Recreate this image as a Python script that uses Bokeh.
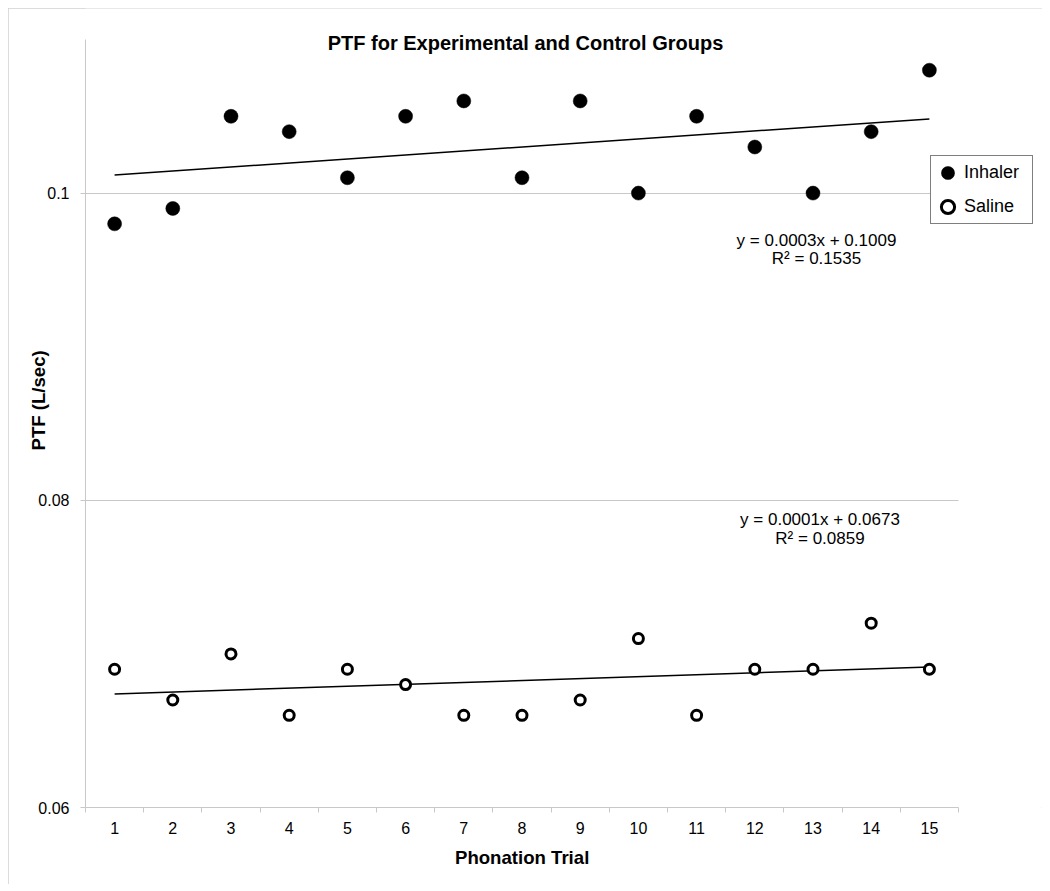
import numpy as np
from bokeh.plotting import figure
from bokeh.models import Range1d, FixedTicker, Label, Grid, Title
from bokeh.embed import file_html
from bokeh.resources import INLINE

# ---- data ----
trials = list(range(1, 16))
inhaler = [0.098, 0.099, 0.105, 0.104, 0.101, 0.105, 0.106, 0.101, 0.106, 0.100,
           0.105, 0.103, 0.100, 0.104, 0.108]
saline = [0.069, 0.067, 0.070, 0.066, 0.069, 0.068, 0.066, 0.066, 0.067, 0.071,
          0.066, 0.069, 0.069, 0.072, 0.069]
y_ticks = [0.06, 0.08, 0.1]
y_tick_labels = ["0.06", "0.08", "0.1"]
x_tick_labels = [str(t) for t in trials]
title_text = "PTF for Experimental and Control Groups"
x_title = "Phonation Trial"
y_title = "PTF (L/sec)"
eq_inhaler = ["y = 0.0003x + 0.1009", "R² = 0.1535"]
eq_saline = ["y = 0.0001x + 0.0673", "R² = 0.0859"]

FONT = "Liberation Sans"
GRAY = "#c8c8c8"

# ---- layout (pixels) ----
W, H = 1034, 876
LEFT, BOTTOM = 77, 77
PLOT_W, PLOT_H = 873, 768          # axis extent of the chart area
X0, X1 = 0.5, 15.5
Y0, Y1 = 0.06, 0.11
# frame is extended to the right and top so legend/title are not clipped
x_end = X1 + (W - LEFT - PLOT_W) * (X1 - X0) / PLOT_W
y_end = Y1 + (H - BOTTOM - PLOT_H) * (Y1 - Y0) / PLOT_H

p = figure(width=W, height=H, output_backend="svg", toolbar_location=None,
           x_range=Range1d(X0, x_end), y_range=Range1d(Y0, y_end),
           title_location=None,
           min_border_left=LEFT, min_border_right=0, min_border_top=0, min_border_bottom=BOTTOM)
p.styles = {"margin": "8px 0 0 8px", "outline": "1px solid #d0d0d0", "outline-offset": "-1px"}
p.outline_line_color = None
p.background_fill_color = "white"
p.border_fill_color = "white"

# axes
xa = p.xaxis[0]
xa.bounds = (X0, X1)
xa.ticker = FixedTicker(ticks=trials, minor_ticks=[t - 0.5 for t in trials] + [trials[-1] + 0.5])
xa.major_label_overrides = {t: lab for t, lab in zip(trials, x_tick_labels)}
xa.major_tick_line_color = None
xa.major_tick_out = 0
xa.major_tick_in = 0
xa.minor_tick_line_color = GRAY
xa.minor_tick_out = 5
xa.minor_tick_in = 0
xa.axis_line_color = GRAY
xa.major_label_text_font = FONT
xa.major_label_text_font_size = "16px"
xa.major_label_text_color = "black"
xa.major_label_standoff = 9

XT_SIZE = 18.6
# x axis title, centred under the chart area (not the extended frame)
xt_half = 67
p.add_layout(Title(text=x_title, align="left", offset=PLOT_W / 2 - xt_half,
                   vertical_align="top", standoff=21,
                   text_font=FONT, text_font_style="bold", text_font_size=f"{XT_SIZE}px",
                   text_color="black"), "below")

ya = p.yaxis[0]
ya.bounds = (Y0, Y1)
ya.ticker = FixedTicker(ticks=y_ticks, minor_ticks=[])
ya.major_label_overrides = {t: lab for t, lab in zip(y_ticks, y_tick_labels)}
ya.major_tick_line_color = GRAY
ya.major_tick_out = 5
ya.major_tick_in = 0
ya.minor_tick_line_color = None
ya.axis_line_color = GRAY
ya.major_label_text_font = FONT
ya.major_label_text_font_size = "16px"
ya.major_label_text_color = "black"
ya.major_label_standoff = 11

# y axis title, placed along the chart area
p.add_layout(Title(text=y_title, align="left", offset=357,
                   vertical_align="bottom", standoff=-26,
                   text_font=FONT, text_font_style="bold", text_font_size=f"{XT_SIZE}px",
                   text_color="black"), "left")

p.xgrid.visible = False
if "cross_bounds" in Grid.properties():
    p.ygrid.grid_line_color = GRAY
    p.ygrid.cross_bounds = (X0, X1)
else:
    p.ygrid.visible = False
    gl = [t for t in y_ticks if t != Y0]
    p.segment(x0=[X0] * len(gl), x1=[X1] * len(gl), y0=gl, y1=gl, line_color=GRAY, line_width=1)

# trend lines (least-squares fits of the data)
x = np.array(trials, dtype=float)
for ys in (inhaler, saline):
    m, b = np.polyfit(x, np.array(ys), 1)
    p.line([x[0], x[-1]], [m * x[0] + b, m * x[-1] + b], line_color="black", line_width=1.5)

# points
r1 = p.scatter(trials, inhaler, marker="circle", size=14, fill_color="black",
               line_color="black", line_width=0.5, legend_label="Inhaler")
r2 = p.scatter(trials, saline, marker="circle", size=10, fill_color="white",
               line_color="black", line_width=3, legend_label="Saline")

# legend
lg = p.legend[0]
lg.location = (845, 583)
lg.margin = 0
lg.padding = 0
lg.spacing = 1
lg.glyph_width = 33
lg.glyph_height = 33
lg.label_height = 33
lg.label_width = 68
lg.label_standoff = 0
lg.label_text_font = FONT
lg.label_text_font_size = "18px"
lg.label_text_color = "black"
lg.border_line_color = "black"
lg.border_line_width = 1
lg.background_fill_color = "white"
lg.background_fill_alpha = 1.0

# title
p.add_layout(Label(x=8.06, y=0.1098, text=title_text, text_font=FONT, text_font_size="20px",
                   text_font_style="bold", text_align="center", text_baseline="middle",
                   text_color="black"))

# equations
for (xc, ys_), lines in (((13.06, (0.09691, 0.09574)), eq_inhaler),
                         ((13.12, (0.07875, 0.07751)), eq_saline)):
    for yy, txt in zip(ys_, lines):
        p.add_layout(Label(x=xc, y=yy, text=txt, text_font=FONT, text_font_size="17px",
                           text_align="center", text_baseline="middle", text_color="black"))

open("out.html", "w").write(file_html(p, INLINE))
